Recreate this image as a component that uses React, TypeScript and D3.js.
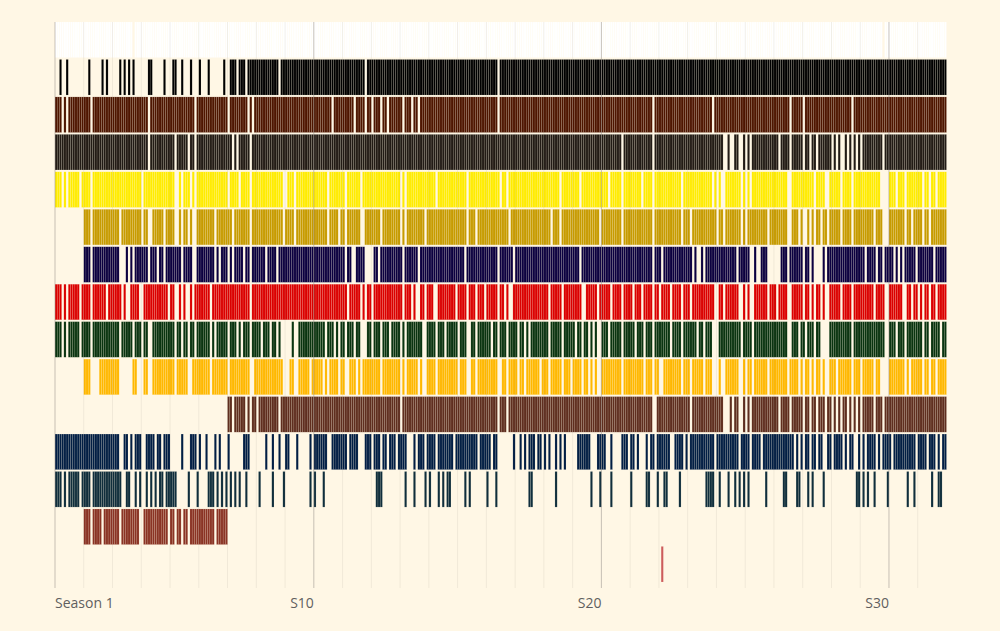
import React from "react";
import * as d3 from "d3";

type Run = [number, number];

// ---- Data ----
const seasonCount = 31;
const episodesPerSeason = 13;
const tickSeasons = [1, 10, 20, 30];
const tickLabels = ["Season 1", "S10", "S20", "S30"];

const paintNames = [
  "Titanium White", "Midnight Black", "Alizarin Crimson", "Van Dyke Brown",
  "Cadmium Yellow", "Yellow Ochre", "Phthalo Blue", "Bright Red", "Sap Green",
  "Indian Yellow", "Dark Sienna", "Prussian Blue", "Phthalo Green", "Burnt Umber", "Indian Red",
];
const paintColors = [
  "#FFFFFF", "#000000", "#4E1500", "#221B15", "#FFEC00", "#C79B00", "#0C0040", "#DB0000",
  "#0A3410", "#FFB800", "#5F2E1F", "#021E44", "#102E3C", "#8A3324", "#CD5C5C",
];

// episode index ranges (0-based, inclusive) in which each paint was used
const titaniumWhite: Run[] = [[0,34],[36,373],[375,402]];
const midnightBlack: Run[] = [[2,2],[5,5],[15,15],[21,21],[23,23],[29,29],[31,31],[33,33],[35,35],[42,43],[49,49],[53,54],[57,57],[61,61],[65,65],[69,69],[76,76],[79,81],[83,85],[87,100],[102,139],[141,199],[201,402]];
const alizarinCrimson: Run[] = [[0,2],[4,4],[6,15],[17,41],[43,62],[64,77],[79,86],[88,88],[90,124],[126,134],[136,139],[141,142],[144,146],[148,149],[151,156],[158,160],[162,163],[165,199],[201,269],[271,296],[298,331],[333,337],[339,359],[361,402]];
const vanDykeBrown: Run[] = [[0,41],[43,53],[55,59],[61,62],[64,79],[81,81],[83,87],[89,255],[257,269],[271,301],[304,304],[307,308],[311,311],[313,313],[315,326],[328,331],[333,337],[339,340],[342,343],[345,350],[352,352],[354,354],[357,357],[359,359],[361,361],[363,363],[365,373],[375,402]];
const cadmiumYellow: Run[] = [[0,2],[4,4],[6,10],[12,15],[17,38],[40,53],[56,56],[58,60],[62,62],[64,77],[79,82],[84,87],[89,102],[105,107],[109,122],[124,130],[132,137],[139,155],[157,157],[159,171],[173,185],[187,200],[202,203],[205,227],[229,236],[238,249],[251,255],[257,264],[266,269],[271,282],[284,296],[298,298],[300,300],[303,309],[311,311],[313,313],[315,330],[333,342],[344,347],[350,354],[356,359],[361,372],[377,379],[381,383],[385,391],[393,394],[396,397],[399,402]];
const yellowOchre: Run[] = [[13,15],[17,28],[30,38],[40,41],[44,48],[50,53],[56,56],[58,59],[61,61],[64,71],[73,79],[81,87],[89,102],[104,107],[109,122],[124,127],[129,130],[132,137],[140,146],[148,155],[157,157],[159,166],[168,185],[187,189],[191,204],[206,223],[225,227],[229,245],[247,255],[257,269],[271,282],[284,286],[288,298],[300,301],[303,309],[311,311],[313,321],[323,330],[333,335],[337,337],[340,340],[342,342],[344,345],[347,348],[350,354],[356,359],[361,369],[371,373],[377,383],[385,386],[388,391],[393,394],[396,402]];
const phthaloBlue: Run[] = [[13,15],[17,28],[32,32],[34,34],[36,41],[43,45],[47,48],[50,56],[58,61],[64,71],[73,73],[75,77],[79,79],[81,84],[86,87],[89,94],[96,99],[101,130],[132,133],[136,139],[144,145],[147,156],[158,163],[165,184],[186,199],[201,206],[208,236],[238,269],[271,273],[275,287],[289,289],[292,292],[294,307],[309,313],[316,316],[319,321],[328,330],[332,337],[339,340],[342,342],[347,347],[349,365],[367,370],[372,373],[375,378],[380,380],[382,382],[384,388],[390,396],[398,402]];
const brightRed: Run[] = [[0,2],[4,4],[6,10],[12,15],[17,22],[24,29],[31,31],[34,37],[40,50],[52,53],[56,56],[58,58],[61,61],[63,69],[71,87],[89,131],[133,137],[139,139],[141,142],[144,156],[158,160],[162,162],[165,166],[168,170],[173,180],[182,185],[187,189],[191,193],[195,199],[201,202],[204,204],[207,222],[224,228],[230,237],[240,244],[246,250],[252,255],[257,260],[262,264],[266,269],[271,272],[274,277],[279,282],[284,286],[288,297],[300,301],[303,308],[311,311],[313,313],[316,321],[323,325],[327,330],[333,337],[339,340],[342,342],[344,345],[347,347],[350,354],[356,359],[361,369],[371,374],[377,382],[385,386],[388,389],[391,391],[393,394],[396,397],[399,402]];
const sapGreen: Run[] = [[0,2],[4,4],[6,10],[12,15],[17,28],[30,34],[36,38],[40,41],[44,53],[55,56],[58,59],[61,62],[64,69],[71,71],[73,77],[79,81],[83,83],[85,87],[89,92],[94,96],[98,99],[101,101],[107,107],[110,121],[123,125],[127,127],[129,130],[132,134],[136,137],[141,142],[144,146],[148,150],[152,155],[157,157],[159,165],[168,171],[173,175],[177,181],[183,185],[188,189],[191,196],[198,199],[201,203],[205,208],[210,211],[213,213],[215,222],[224,228],[230,234],[236,237],[239,240],[242,242],[244,244],[247,249],[251,255],[257,261],[263,265],[267,269],[271,277],[279,282],[284,289],[291,292],[294,296],[300,309],[311,314],[316,330],[333,335],[337,338],[340,342],[344,345],[350,359],[361,374],[377,379],[381,383],[385,391],[393,394],[396,399],[401,402]];
const indianYellow: Run[] = [[13,15],[20,28],[35,36],[40,41],[44,53],[55,59],[62,69],[71,77],[79,87],[90,102],[106,107],[110,114],[116,120],[122,122],[124,127],[129,130],[133,135],[137,137],[139,146],[148,155],[157,157],[159,163],[165,165],[168,171],[173,181],[183,185],[188,189],[191,199],[202,203],[205,208],[210,211],[213,218],[220,222],[224,228],[230,232],[234,237],[239,240],[242,242],[244,244],[247,255],[257,265],[267,269],[271,272],[275,282],[284,286],[288,292],[294,296],[300,300],[303,308],[311,311],[313,314],[316,321],[323,330],[332,335],[337,337],[339,340],[342,342],[344,345],[347,347],[350,352],[354,359],[361,363],[365,369],[371,372],[377,383],[385,385],[387,391],[393,394],[396,397],[399,402]];
const darkSienna: Run[] = [[78,79],[81,85],[87,87],[89,90],[92,100],[102,155],[157,199],[201,203],[205,269],[272,286],[288,301],[305,305],[307,308],[311,311],[313,313],[315,326],[328,331],[333,337],[339,340],[342,343],[345,347],[349,350],[352,352],[354,354],[356,357],[359,359],[361,361],[363,363],[365,369],[371,373],[375,402]];
const prussianBlue: Run[] = [[0,28],[31,32],[34,34],[36,38],[41,44],[46,47],[49,51],[57,57],[61,63],[65,65],[68,68],[72,72],[74,74],[78,78],[85,87],[95,95],[98,98],[101,101],[104,105],[109,109],[115,115],[117,122],[125,131],[133,136],[140,142],[144,146],[148,149],[151,153],[155,158],[162,162],[164,166],[168,171],[173,179],[181,190],[192,196],[198,199],[207,207],[210,210],[212,212],[214,216],[218,219],[221,221],[223,223],[226,226],[228,228],[230,230],[236,241],[245,248],[251,251],[256,258],[260,261],[263,263],[267,267],[269,270],[272,277],[280,283],[285,285],[287,297],[299,308],[310,313],[315,318],[320,333],[335,335],[337,337],[339,340],[342,343],[345,346],[349,350],[352,355],[357,357],[359,360],[363,363],[365,365],[367,370],[372,372],[374,377],[379,388],[390,393],[395,397],[399,399],[401,402]];
const phthaloGreen: Run[] = [[0,2],[4,4],[6,10],[12,15],[17,29],[32,33],[36,36],[38,38],[41,41],[43,43],[45,45],[47,48],[50,54],[60,60],[64,64],[69,71],[73,73],[75,75],[77,77],[79,79],[81,81],[83,83],[86,86],[92,92],[98,98],[103,103],[115,115],[117,117],[121,121],[145,147],[158,158],[162,162],[167,167],[169,169],[173,173],[175,175],[177,178],[185,185],[187,187],[195,195],[199,199],[214,215],[226,226],[242,242],[246,246],[251,251],[260,260],[267,268],[272,272],[275,276],[282,282],[294,297],[300,300],[304,304],[307,307],[309,309],[311,311],[313,313],[321,321],[329,330],[335,336],[340,340],[342,342],[347,347],[362,363],[365,365],[367,367],[370,370],[376,376],[385,385],[388,388],[396,396],[399,400]];
const burntUmber: Run[] = [[13,15],[17,20],[22,28],[30,37],[40,50],[52,53],[55,56],[58,59],[61,71],[73,77]];
const indianRed: Run[] = [[274,274]];

const paintRuns: Run[][] = [
  titaniumWhite, midnightBlack, alizarinCrimson, vanDykeBrown, cadmiumYellow, yellowOchre,
  phthaloBlue, brightRed, sapGreen, indianYellow, darkSienna, prussianBlue, phthaloGreen,
  burntUmber, indianRed,
];

export default function App() {
  const W = 1000;
  const H = 631;
  const bg = "#FFF7E5";
  const nEp = seasonCount * episodesPerSeason;
  const episodes = d3.range(nEp);
  const x = d3.scaleBand<number>().domain(episodes).range([55, 946.5]).padding(0);
  const y = d3.scaleBand<string>().domain(paintNames).range([22, 582]).paddingInner(0.05).paddingOuter(0);
  const bw = x.bandwidth();
  const seasonStarts = d3.range(seasonCount).map((s) => x(s * episodesPerSeason) as number);

  const rows = paintNames.map((name, i) => {
    const eps: number[] = [];
    paintRuns[i].forEach(([a, b]) => d3.range(a, b + 1).forEach((e) => eps.push(e)));
    return { name, color: paintColors[i], eps };
  });

  return (
    <div style={{ position: "absolute", left: 0, top: 0 }}>
      <svg width={W} height={H} style={{ display: "block" }}>
        <rect x={0} y={0} width={W} height={H} fill={bg} />
        {rows.map((r) => (
          <g key={r.name}>
            {r.eps.map((e) => (
              <rect
                key={e}
                x={x(e)}
                y={y(r.name)}
                width={bw}
                height={y.bandwidth()}
                fill={r.color}
                stroke="#FFF7E5"
                strokeWidth={0.4}
                strokeOpacity={0.3}
              />
            ))}
          </g>
        ))}
        {seasonStarts.map((sx, i) => {
          const major = tickSeasons.includes(i + 1);
          return (
            <line
              key={i}
              x1={sx}
              x2={sx}
              y1={22}
              y2={588}
              stroke={major ? "#8f8a84" : "#000"}
              strokeOpacity={major ? 0.5 : 0.06}
              strokeWidth={1}
            />
          );
        })}
        {tickSeasons.map((s, i) => {
          const sx = x((s - 1) * episodesPerSeason) as number;
          return (
            <text
              key={s}
              x={sx}
              y={608}
              textAnchor={i === 0 ? "start" : "end"}
              fontFamily="'Open Sans', sans-serif"
              fontSize={14}
              fill="#5f5f5f"
            >
              {tickLabels[i]}
            </text>
          );
        })}
      </svg>
    </div>
  );
}
